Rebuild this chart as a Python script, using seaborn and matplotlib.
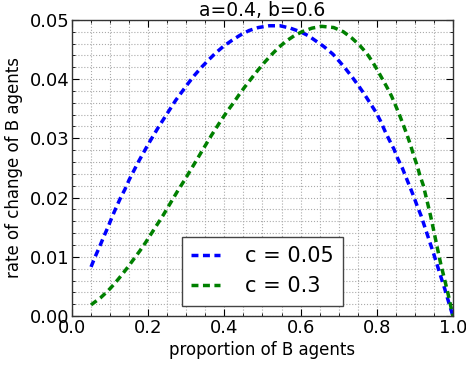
import matplotlib
matplotlib.use("Agg")
import matplotlib.pyplot as plt
from matplotlib.ticker import MultipleLocator, FormatStrFormatter
import seaborn as sns
import pandas as pd

# ---- data ----
x_c005 = [0.05, 0.06, 0.073, 0.084, 0.095, 0.105, 0.115, 0.127, 0.139, 0.15,
          0.162, 0.174, 0.187, 0.2, 0.213, 0.227, 0.243, 0.257, 0.272, 0.288,
          0.304, 0.321, 0.34, 0.358, 0.377, 0.397, 0.419, 0.441, 0.465, 0.489,
          0.518, 0.546, 0.573, 0.599, 0.621, 0.641, 0.661, 0.685, 0.703, 0.72,
          0.737, 0.753, 0.768, 0.782, 0.797, 0.81, 0.821, 0.833, 0.845, 0.855,
          0.867, 0.877, 0.887, 0.897, 0.906, 0.916, 0.933, 0.95, 0.966, 0.978,
          0.989, 1.0]
y_c005 = [0.0083, 0.0099, 0.0118, 0.0135, 0.0151, 0.0167, 0.0182, 0.0199, 0.0214, 0.0230,
          0.0245, 0.0260, 0.0275, 0.0290, 0.0304, 0.0319, 0.0335, 0.0349, 0.0364, 0.0378,
          0.0392, 0.0406, 0.0420, 0.0432, 0.0444, 0.0455, 0.0465, 0.0474, 0.0482, 0.0487,
          0.0490, 0.0490, 0.0486, 0.0480, 0.0473, 0.0464, 0.0455, 0.0442, 0.0429, 0.0416,
          0.0402, 0.0388, 0.0374, 0.0360, 0.0345, 0.0329, 0.0313, 0.0297, 0.0282, 0.0266,
          0.0250, 0.0234, 0.0218, 0.0202, 0.0186, 0.0170, 0.0137, 0.0104, 0.0071, 0.0047,
          0.0023, 0.0]

x_c03 = [0.05, 0.075, 0.095, 0.112, 0.13, 0.147, 0.163, 0.178, 0.194, 0.209,
         0.224, 0.24, 0.253, 0.266, 0.279, 0.295, 0.308, 0.323, 0.336, 0.35,
         0.365, 0.38, 0.393, 0.408, 0.424, 0.439, 0.455, 0.472, 0.488, 0.505,
         0.525, 0.542, 0.562, 0.583, 0.604, 0.63, 0.656, 0.687, 0.712, 0.735,
         0.755, 0.773, 0.788, 0.801, 0.814, 0.827, 0.839, 0.849, 0.86, 0.87,
         0.88, 0.889, 0.897, 0.906, 0.913, 0.922, 0.928, 0.934, 0.941, 0.95,
         0.959, 0.968, 0.978, 0.987, 1.0]
y_c03 = [0.0019, 0.0031, 0.0043, 0.0055, 0.0069, 0.0083, 0.0097, 0.0110, 0.0125, 0.0140,
         0.0155, 0.0171, 0.0185, 0.0199, 0.0213, 0.0229, 0.0243, 0.0259, 0.0273, 0.0288,
         0.0304, 0.0319, 0.0332, 0.0346, 0.0360, 0.0374, 0.0388, 0.0402, 0.0415, 0.0428,
         0.0442, 0.0453, 0.0464, 0.0473, 0.0480, 0.0486, 0.0489, 0.0487, 0.0480, 0.0469,
         0.0457, 0.0444, 0.0430, 0.0416, 0.0401, 0.0386, 0.0371, 0.0356, 0.0339, 0.0322,
         0.0305, 0.0288, 0.0271, 0.0254, 0.0238, 0.0221, 0.0205, 0.0189, 0.0170, 0.0143,
         0.0115, 0.0088, 0.0062, 0.0038, 0.0]

labels = ["c = 0.05", "c = 0.3"]
x_ticks = [0.0, 0.2, 0.4, 0.6, 0.8, 1.0]
y_ticks = [0.00, 0.01, 0.02, 0.03, 0.04, 0.05]
title = "a=0.4, b=0.6"
xlabel = "proportion of B agents"
ylabel = "rate of change of B agents"

plt.rcParams['font.family'] = ['DejaVu Sans']
plt.rcParams['xtick.direction'] = 'in'
plt.rcParams['ytick.direction'] = 'in'

fig = plt.figure(figsize=(4.66, 3.66), dpi=100)
ax = fig.add_axes([0.1545, 0.1363, 0.8175, 0.8095])

df1 = pd.DataFrame({"x": x_c005, "y": y_c005})
df2 = pd.DataFrame({"x": x_c03, "y": y_c03})
sns.lineplot(data=df1, x="x", y="y", ax=ax, color="#0000ff", lw=2.5, label=labels[0])
sns.lineplot(data=df2, x="x", y="y", ax=ax, color="#008000", lw=2.5, label=labels[1])
for ln in ax.get_lines():
    ln.set_dashes((2.0, 1.3))
    ln.set_dash_capstyle('butt')

ax.set_xlim(0, 1)
ax.set_ylim(0, 0.05)
ax.set_xticks(x_ticks)
ax.set_yticks(y_ticks)
ax.yaxis.set_major_formatter(FormatStrFormatter('%.2f'))
ax.xaxis.set_major_formatter(FormatStrFormatter('%.1f'))
ax.xaxis.set_minor_locator(MultipleLocator(0.05))
ax.yaxis.set_minor_locator(MultipleLocator(0.002))
ax.tick_params(which='both', top=True, right=True, labelsize=13)
ax.tick_params(which='major', length=5, width=0.8)
ax.tick_params(which='minor', length=2.5, width=0.6)
ax.tick_params(axis='y', which='major', pad=2)
ax.tick_params(axis='x', which='major', pad=2)
ax.grid(which='both', color='#aaaaaa', linestyle=':', linewidth=0.8)
ax.set_axisbelow(True)
for s in ax.spines.values():
    s.set_linewidth(1.0)
    s.set_color('#333333')

ax.set_title(title, fontsize=13.5, pad=3)
ax.set_xlabel(xlabel, fontsize=12, labelpad=3)
ax.set_ylabel(ylabel, fontsize=12, labelpad=5)

leg = ax.legend(loc='lower center', fontsize=15, fancybox=False, framealpha=1,
                edgecolor='#444444', handlelength=1.4, handletextpad=1.2,
                borderaxespad=0.5, borderpad=0.45)
leg.get_frame().set_linewidth(1.0)

fig.savefig("out.png", dpi=100, facecolor='white')
